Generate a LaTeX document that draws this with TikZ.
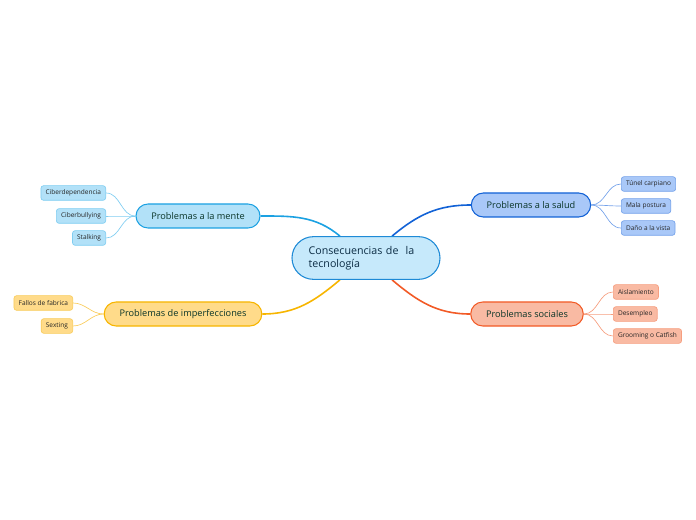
\documentclass[tikz,border=0pt]{standalone}
\usepackage{fontspec}
\setmainfont{Open Sans}
\usepackage{tikz}
\usetikzlibrary{backgrounds}
\definecolor{centerfill}{HTML}{C6E9FB}
\definecolor{centerdraw}{HTML}{1E8AD6}
\definecolor{titletext}{HTML}{0B2C44}
\definecolor{maintext}{HTML}{0A3528}
\definecolor{mentefill}{HTML}{B2E1F8}
\definecolor{mentedraw}{HTML}{1BA1E2}
\definecolor{mentesoft}{HTML}{7FCDF1}
\definecolor{saludfill}{HTML}{A9C8F8}
\definecolor{saluddraw}{HTML}{1262D6}
\definecolor{saludsoft}{HTML}{74A2EA}
\definecolor{imperffill}{HTML}{FFDB8A}
\definecolor{imperfdraw}{HTML}{F7B500}
\definecolor{imperfsoft}{HTML}{F9CC5C}
\definecolor{socialfill}{HTML}{F9BAA3}
\definecolor{socialdraw}{HTML}{F25A26}
\definecolor{socialsoft}{HTML}{F69E7F}

\begin{document}
\begin{tikzpicture}[x=0.75pt,y=-0.75pt,
  central/.style={draw=centerdraw,fill=centerfill,line width=0.8pt,rounded corners=16pt,minimum width=111pt,minimum height=32pt,font=\fontsize{8}{10}\selectfont,text=titletext,align=left,text width=86pt},
  topic/.style={draw=#1draw,fill=#1fill,line width=0.8pt,rounded corners=9pt,minimum height=18pt,inner xsep=11.5pt,font=\fontsize{6.9}{8}\selectfont,text=maintext},
  leaf/.style={draw=#1soft,fill=#1fill,line width=0.5pt,rounded corners=2pt,minimum height=11pt,inner xsep=3.5pt,inner ysep=0pt,font=\fontsize{4.9}{6}\selectfont,text=black!85},
  branch/.style={draw=#1draw,line width=1.2pt},
  twig/.style={draw=#1soft,line width=0.5pt}]
\useasboundingbox (0,0) rectangle (696,520);
% centre and main topics
\node[central] (center) at (366,258) {Consecuencias de\ \ la\\tecnología};
\node[topic=mente] (mente) at (198,216) {Problemas a la mente};
\node[topic=imperf] (imperf) at (183,314) {Problemas de imperfecciones};
\node[topic=salud] (salud) at (531,205) {Problemas a la salud};
\node[topic=social] (social) at (527,314) {Problemas sociales};
% leaves
\node[leaf=mente,anchor=east] (cdep) at (106,193) {Ciberdependencia};
\node[leaf=mente,anchor=east] (cbul) at (106,216) {Ciberbullying};
\node[leaf=mente,anchor=east] (stalk) at (106,238) {Stalking};
\node[leaf=imperf,anchor=east] (fallos) at (73,303) {Fallos de fabrica};
\node[leaf=imperf,anchor=east] (sext) at (73,326) {Sexting};
\node[leaf=salud,anchor=west] (tunel) at (621,184) {Túnel carpiano};
\node[leaf=salud,anchor=west] (postura) at (621,206) {Mala postura};
\node[leaf=salud,anchor=west] (vista) at (621,228) {Daño a la vista};
\node[leaf=social,anchor=west] (aisl) at (613,292) {Aislamiento};
\node[leaf=social,anchor=west] (desem) at (613,314) {Desempleo};
\node[leaf=social,anchor=west] (groom) at (613,336) {Grooming o Catfish};
\begin{scope}[on background layer]
\draw[branch=mente] (mente.east) to[out=0,in=140] (center);
\draw[branch=imperf] (imperf.east) to[out=0,in=-140] (center);
\draw[branch=salud] (salud.west) to[out=180,in=40] (center);
\draw[branch=social] (social.west) to[out=180,in=-40] (center);
\end{scope}
\foreach \leafname in {cdep,cbul,stalk}
  \draw[twig=mente] (mente.west) to[out=180,in=0] (\leafname.east);
\foreach \leafname in {fallos,sext}
  \draw[twig=imperf] (imperf.west) to[out=180,in=0] (\leafname.east);
\foreach \leafname in {tunel,postura,vista}
  \draw[twig=salud] (salud.east) to[out=0,in=180] (\leafname.west);
\foreach \leafname in {aisl,desem,groom}
  \draw[twig=social] (social.east) to[out=0,in=180] (\leafname.west);
\end{tikzpicture}
\end{document}
